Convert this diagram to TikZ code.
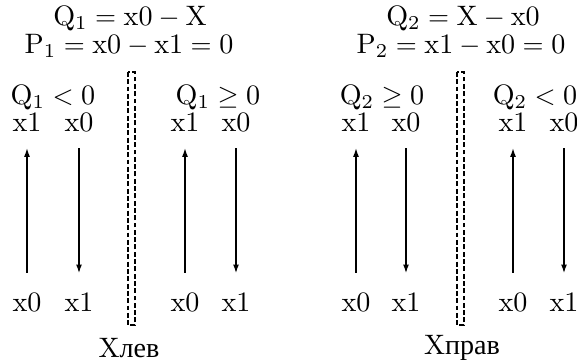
\documentclass[tikz,border=0pt]{standalone}
\usepackage{amsmath}
\usepackage{fontspec}
\newfontfamily\cyr{Liberation Serif}
\usetikzlibrary{arrows.meta}

\begin{document}
\begin{tikzpicture}[x=0.37pt, y=-0.37pt, font=\fontsize{10.4}{12}\selectfont, inner sep=1pt,
	rise/.style={-{Latex[length=3.2pt,width=2.2pt]}, line width=0.5pt, shorten <=6pt, shorten >=5pt},
	fall/.style={-{Latex[length=3.2pt,width=2.2pt]}, line width=0.5pt, shorten <=5pt, shorten >=6pt},
	wall/.style={dashed, dash pattern=on 1.8pt off 0.9pt, line width=0.6pt}]
\useasboundingbox (0,0) rectangle (577,363);
\node (q1) at (130,18){\(\mathrm{Q_1 = x0 - X}\)};
\node (p1) at (129,46){\(\mathrm{P_1 = x0 - x1 = 0}\)};
\node (q2) at (463,18){\(\mathrm{Q_2 = X - x0}\)};
\node (p2) at (461,46){\(\mathrm{P_2 = x1 - x0 = 0}\)};
\node (c1) at (53,97){\(\mathrm{Q_1 < 0}\)};
\node (c2) at (218,97){\(\mathrm{Q_1 \geq 0}\)};
\node (c3) at (382,97){\(\mathrm{Q_2 \geq 0}\)};
\node (c4) at (535,97){\(\mathrm{Q_2 < 0}\)};
\foreach \i/\x/\y in {1/27/79, 2/185/236, 3/356/406, 4/513/564} {
	\node (t\i a) at (\x,122){\(\mathrm{x1}\)};
	\node (t\i b) at (\y,122){\(\mathrm{x0}\)};
	\node (b\i a) at (\x,302){\(\mathrm{x0}\)};
	\node (b\i b) at (\y,302){\(\mathrm{x1}\)};
	\draw[rise] (b\i a) -- (t\i a);
	\draw[fall] (t\i b) -- (b\i b);
}
\draw[wall] (128,72) rectangle (135,325);
\draw[wall] (457,72) rectangle (464,325);
\node (xl) at (129,348){X{\cyr лев}};
\node (xr) at (462,348){X{\cyr прав}};
\end{tikzpicture}
\end{document}
